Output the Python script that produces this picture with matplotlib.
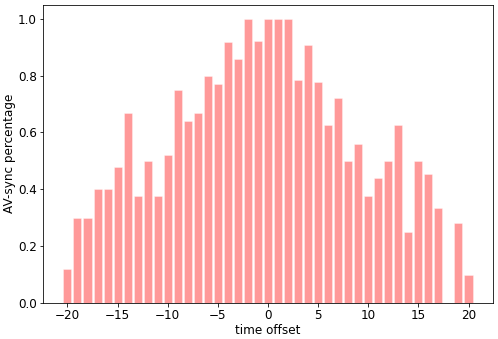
import matplotlib
matplotlib.use("Agg")
import matplotlib.pyplot as plt

offsets = list(range(-20, 21))
sync = [0.12, 0.30, 0.30, 0.40, 0.40, 0.48, 0.667, 0.375, 0.50, 0.375,
        0.52, 0.75, 0.64, 0.667, 0.80, 0.77, 0.917, 0.857, 1.0, 0.923,
        1.0, 1.0, 1.0, 0.786, 0.909, 0.778, 0.625, 0.72, 0.50, 0.56,
        0.375, 0.44, 0.50, 0.625, 0.25, 0.50, 0.455, 0.333, 0.0, 0.28,
        0.10]

plt.rcParams['font.size'] = 12
fig = plt.figure(figsize=(498/72, 339/72), dpi=72)
ax = fig.add_axes([0.0863, 0.1062, 0.9036, 0.8805])
ax.bar(offsets, sync, color='red', alpha=0.4, edgecolor='white', linewidth=0.8)
ax.tick_params(pad=2.5)
ax.set_xlabel("time offset", labelpad=2)
ax.set_ylabel("AV-sync percentage", labelpad=2)
fig.savefig("out.png", dpi=72)
